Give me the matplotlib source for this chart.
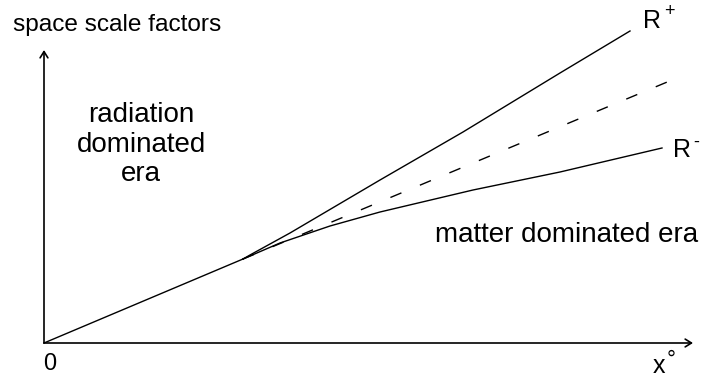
import matplotlib
matplotlib.use("Agg")
import matplotlib.pyplot as plt

# schematic data, origin at (0, 0), units ~ pixels
common_x = [0, 199]
common_y = [0, 84]
r_plus_x = [199, 206, 226, 246, 336, 419, 516, 586]
r_plus_y = [84, 88, 99, 110, 163, 211, 270, 312]
r_minus_x = [199, 236, 286, 336, 429, 516, 618]
r_minus_y = [84, 100, 117, 131, 153, 171, 195]
dashed_x = [199, 628]
dashed_y = [84, 263]
x_axis_end = 649
y_axis_end = 293

plt.rcParams['font.family'] = ['Liberation Sans', 'DejaVu Sans']
plt.rcParams['lines.scale_dashes'] = False

fig = plt.figure(figsize=(7.05, 3.81), dpi=100)
ax = fig.add_axes([0, 0, 1, 1])
ax.set_xlim(-44, 661)
ax.set_ylim(-38, 343)
ax.axis('off')

lw = 1.0
ax.plot(common_x, common_y, color='black', lw=lw)
ax.plot(r_plus_x, r_plus_y, color='black', lw=lw)
ax.plot(r_minus_x, r_minus_y, color='black', lw=lw)
ax.plot(dashed_x, dashed_y, color='black', lw=lw, linestyle=(0, (8.6, 14.4)))

# axes arrows
arrow = dict(arrowstyle='->,head_length=0.45,head_width=0.28', lw=1.2,
             color='black', shrinkA=0, shrinkB=0)
ax.annotate('', xy=(x_axis_end, 0), xytext=(0, 0), arrowprops=arrow)
ax.annotate('', xy=(0, y_axis_end), xytext=(0, 0), arrowprops=arrow)

ax.text(-31, 312, 'space scale factors', fontsize=17.6, va='baseline', ha='left')
for label, yb in zip(['radiation', 'dominated', 'era'], [221, 191, 162]):
    ax.text(97, yb, label, fontsize=20, va='baseline', ha='center')
ax.text(391, 101, 'matter dominated era', fontsize=20, va='baseline', ha='left')

ax.text(599, 315, 'R', fontsize=18, va='baseline', ha='left')
ax.text(625, 331, '+', fontsize=13, va='center', ha='center')
ax.text(629, 186, 'R', fontsize=18, va='baseline', ha='left')
ax.text(652, 201, '-', fontsize=13, va='center', ha='center')

ax.text(-1, -27, '0', fontsize=17, va='baseline', ha='left')
ax.text(609, -30, 'x', fontsize=18, va='baseline', ha='left')
ax.text(627, -17, '°', fontsize=16, va='center', ha='center')

fig.savefig('out.png', dpi=100)
